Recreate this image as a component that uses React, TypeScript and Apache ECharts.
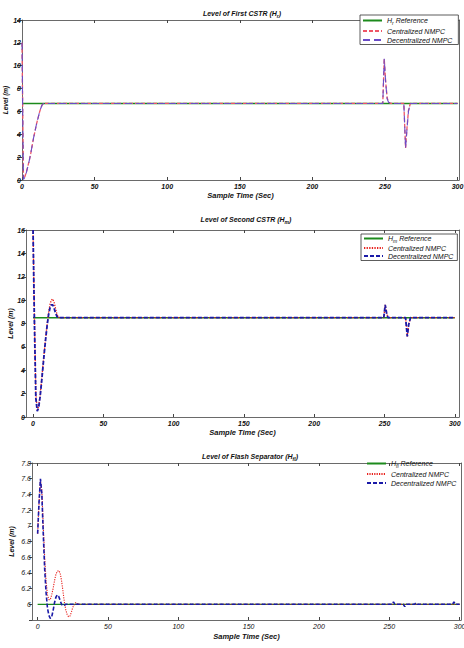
import React, { useEffect, useRef } from "react";
import * as echarts from "echarts";

// ---------- Data ----------
const xTicks = [0, 50, 100, 150, 200, 250, 300];

// Panel 1: Level of First CSTR (H_r)
const hrRef: number[][] = [[0, 6.7], [300, 6.7]];
const hrCent: number[][] = [
  [0, 12], [1, 0.1], [2, 0.3], [3, 0.7], [4, 1.2], [5, 1.7], [6, 2.3], [7, 3.0], [8, 3.7],
  [9, 4.3], [10, 4.9], [11, 5.4], [12, 5.9], [13, 6.3], [14, 6.6], [15, 6.7],
  [248.5, 6.7], [249.5, 10.6], [250.5, 8.6], [251.5, 7.2], [252.5, 6.8], [254, 6.7],
  [263, 6.7], [264.2, 2.8], [265.2, 4.6], [266.2, 6.1], [267.5, 6.7], [300, 6.7],
];
const hrDec: number[][] = [
  [0, 12], [1, 0.05], [2, 0.25], [3, 0.65], [4, 1.15], [5, 1.7], [6, 2.3], [7, 3.0], [8, 3.7],
  [9, 4.3], [10, 4.9], [11, 5.4], [12, 5.9], [13, 6.3], [14, 6.6], [15, 6.7],
  [248.5, 6.7], [249.5, 10.6], [250.5, 8.5], [251.5, 7.1], [252.5, 6.8], [254, 6.7],
  [263, 6.7], [264.2, 2.8], [265.2, 4.5], [266.2, 6.0], [267.5, 6.7], [300, 6.7],
];

// Panel 2: Level of Second CSTR (H_m)
const hmRef: number[][] = [[0, 8.5], [300, 8.5]];
const hmCent: number[][] = [
  [0, 16], [1, 8.5], [2, 2.0], [3, 0.6], [4, 0.9], [5, 1.8], [6, 3.0], [7, 4.3], [8, 5.6],
  [9, 6.8], [10, 7.9], [11, 8.9], [12, 9.6], [13, 10.0], [14, 10.1], [15, 9.8], [16, 9.3],
  [17, 8.8], [18, 8.55], [19, 8.5], [249.5, 8.5], [250.5, 9.6], [251.5, 8.9], [252.5, 8.5],
  [265, 8.5], [266.2, 6.9], [267.2, 7.9], [268.5, 8.5], [300, 8.5],
];
const hmDec: number[][] = [
  [0, 16], [1, 8.0], [2, 1.6], [3, 0.5], [4, 0.8], [5, 1.7], [6, 2.9], [7, 4.2], [8, 5.5],
  [9, 6.7], [10, 7.8], [11, 8.7], [12, 9.3], [13, 9.6], [14, 9.6], [15, 9.3], [16, 8.9],
  [17, 8.6], [18, 8.5], [249.5, 8.5], [250.5, 9.6], [251.5, 8.9], [252.5, 8.5],
  [265, 8.5], [266.2, 6.9], [267.2, 7.9], [268.5, 8.5], [300, 8.5],
];

// Panel 3: Level of Flash Separator (H_fl)
const hfRef: number[][] = [[0, 6], [300, 6]];
const hfCent: number[][] = [
  [0, 6.9], [1, 7.3], [2, 7.58], [3, 7.45], [4, 7.0], [5, 6.6], [6, 6.3], [7, 6.12], [8, 6.06],
  [9, 6.06], [10, 6.12], [11, 6.2], [12, 6.3], [13, 6.38], [14, 6.42], [15, 6.43], [16, 6.4],
  [17, 6.3], [18, 6.17], [19, 6.03], [20, 5.93], [21, 5.87], [22, 5.84], [23, 5.85], [24, 5.9],
  [25, 5.96], [26, 6.0], [27, 6.02], [28, 6.01], [30, 6.0], [300, 6.0],
];
const hfDec: number[][] = [
  [0, 6.9], [1, 7.3], [2, 7.6], [3, 7.4], [4, 6.9], [5, 6.45], [6, 6.15], [7, 5.95], [8, 5.86],
  [9, 5.82], [10, 5.84], [11, 5.92], [12, 6.02], [13, 6.09], [14, 6.12], [15, 6.1], [16, 6.05],
  [17, 6.0], [18, 5.98], [19, 5.99], [20, 6.0], [252, 6.0], [253, 6.03], [254, 6.0], [260, 6.0],
  [261, 5.97], [262, 6.0], [268, 6.0], [269, 6.02], [270, 6.0], [295, 6.0], [296, 6.03],
  [297, 6.0], [300, 6.0],
];

// ---------- Styles ----------
const FONT = "Liberation Sans, Arial, sans-serif";
const GREEN = "#1c8a1c";
const C1_CENT = "#ee5566";
const C1_DEC = "#6a4cc8";
const RED = "#e8201c";
const BLUE = "#1a1aa8";

const rich = {
  n: { fontSize: 7, fontStyle: "italic", fontFamily: FONT, color: "#111" },
  s: { fontSize: 5, fontStyle: "italic", fontFamily: FONT, color: "#111", padding: [5, 0, 0, 0] },
};

function subFmt(name: string) {
  const m = name.match(/^H_(\w+) (.*)$/);
  if (m) return `{n|H}{s|${m[1]}}{n| ${m[2]}}`;
  return `{n|${name}}`;
}

function fmtNum(v: number) {
  return String(Math.round(v * 10) / 10);
}

export default function App() {
  const ref = useRef<HTMLDivElement>(null);
  useEffect(() => {
    if (!ref.current) return;
    const chart = echarts.init(ref.current, undefined, { renderer: "svg" });

    const grids = [
      { left: 22, top: 20, width: 437, height: 160, containLabel: false, outerBoundsMode: "none" },
      { left: 26, top: 230, width: 433, height: 187, containLabel: false, outerBoundsMode: "none" },
      { left: 32, top: 463, width: 429, height: 157, containLabel: false, outerBoundsMode: "none" },
    ];
    const xRanges = [[0, 301], [-5, 303], [-4, 301]];
    const labelBold = ["bold", "bold", "normal"];

    const xAxes: any[] = [];
    const yAxes: any[] = [];
    const nameGapY = [13, 12, 17];
    const tickLen = [5, 4, 3];
    const nameSize = [6.5, 7, 7];
    xRanges.forEach((r, i) => {
      xAxes.push({
        type: "value", gridIndex: i, min: r[0], max: r[1], position: "bottom",
        name: "Sample Time (Sec)", nameLocation: "middle", nameGap: i === 2 ? 12 : 11, nameMoveOverlap: false,
        nameTextStyle: { fontSize: 7.5, fontStyle: "italic", fontWeight: "bold", fontFamily: FONT, color: "#111" },
        axisLine: { show: true, onZero: false, lineStyle: { color: "#444", width: 0.8 } },
        axisTick: { show: true, inside: true, length: 3, customValues: xTicks, lineStyle: { color: "#444" } },
        axisLabel: { customValues: xTicks, formatter: (v: number) => fmtNum(v), margin: 3, fontSize: 7, fontStyle: "italic", fontWeight: labelBold[i], fontFamily: FONT, color: "#111" },
        splitLine: { show: false },
      });
      xAxes.push({
        type: "value", gridIndex: i, min: r[0], max: r[1], position: "top",
        axisLine: { show: true, onZero: false, lineStyle: { color: "#444", width: 0.8 } },
        axisTick: { show: true, inside: true, length: 3, customValues: xTicks, lineStyle: { color: "#444" } },
        axisLabel: { show: false },
        splitLine: { show: false },
      });
    });
    const yRanges = [[0, 14, 2], [0, 16, 2], [5.8, 7.8, 0.2]];
    yRanges.forEach((r, i) => {
      yAxes.push({
        type: "value", gridIndex: i, min: r[0], max: r[1], interval: r[2], position: "left",
        name: "Level (m)", nameLocation: "middle", nameGap: nameGapY[i], nameMoveOverlap: false,
        nameTextStyle: { fontSize: nameSize[i], fontStyle: "italic", fontWeight: "bold", fontFamily: FONT, color: "#111" },
        axisLine: { show: true, onZero: false, lineStyle: { color: "#444", width: 0.8 } },
        axisTick: { show: true, inside: false, length: tickLen[i], lineStyle: { color: "#444" } },
        axisLabel: {
          margin: 1, fontSize: 7, fontStyle: "italic", fontWeight: labelBold[i], fontFamily: FONT, color: "#111",
          formatter: (v: number) => (i === 2 && v < 5.9 ? "" : fmtNum(v)),
        },
        splitLine: { show: false },
      });
      yAxes.push({
        type: "value", gridIndex: i, min: r[0], max: r[1], interval: r[2], position: "right",
        axisLine: { show: true, onZero: false, lineStyle: { color: "#444", width: 0.8 } },
        axisTick: { show: false }, axisLabel: { show: false }, splitLine: { show: false },
      });
    });

    const line = (name: string, data: number[][], g: number, color: string, type: any, width: number) => ({
      name, type: "line", xAxisIndex: g * 2, yAxisIndex: g * 2, data, showSymbol: false, symbol: "none",
      lineStyle: { color, type, width }, itemStyle: { color }, z: 2,
    });

    const series = [
      line("H_r Reference", hrRef, 0, GREEN, "solid", 1.5),
      line("Centralized NMPC", hrCent, 0, C1_CENT, [4, 2], 1.3),
      line("Decentralized NMPC", hrDec, 0, C1_DEC, [7, 4], 1.1),
      line("H_m Reference", hmRef, 1, GREEN, "solid", 1.5),
      line("Centralized NMPC ", hmCent, 1, RED, [1.3, 1.3], 1.3),
      line("Decentralized NMPC ", hmDec, 1, BLUE, [4, 2], 1.8),
      line("H_fl Reference", hfRef, 2, GREEN, "solid", 1.3),
      line("Centralized NMPC  ", hfCent, 2, RED, [1.2, 1.2], 1.1),
      line("Decentralized NMPC  ", hfDec, 2, BLUE, [4, 2], 1.6),
    ];

    const legendCommon = {
      orient: "vertical", itemWidth: 19, itemHeight: 6, selectedMode: false,
      itemStyle: { opacity: 0, borderWidth: 0 },
      textStyle: { fontSize: 7, fontStyle: "italic", fontFamily: FONT, color: "#111", rich },
      formatter: (name: string) => subFmt(name.trim()),
    };
    const legends = [
      { ...legendCommon, left: 360, top: 15, padding: [2, 6, 1, 2], itemGap: 2, backgroundColor: "#fff", borderColor: "#333", borderWidth: 0.8,
        data: ["H_r Reference", "Centralized NMPC", "Decentralized NMPC"] },
      { ...legendCommon, left: 361, top: 234, padding: [1, 4, 1, 2], itemGap: 1, backgroundColor: "#fff", borderColor: "#333", borderWidth: 0.8,
        data: ["H_m Reference", "Centralized NMPC ", "Decentralized NMPC "] },
      { ...legendCommon, left: 366, top: 460, padding: [0, 0, 0, 0], itemGap: 2,
        data: ["H_fl Reference", "Centralized NMPC  ", "Decentralized NMPC  "] },
    ];

    const titleStyle = { fontSize: 7, fontStyle: "italic", fontFamily: FONT, color: "#111", rich };
    const titles = [
      { text: "{n|Level of First CSTR (H}{s|r}{n|)}", left: 237, top: 3, textAlign: "center", textStyle: titleStyle },
      { text: "{n|Level of Second CSTR (H}{s|m}{n|)}", left: 241, top: 209, textAlign: "center", textStyle: titleStyle },
      { text: "{n|Level of Flash Separator (H}{s|fl}{n|)}", left: 245, top: 446, textAlign: "center", textStyle: titleStyle },
    ];

    chart.setOption({
      animation: false,
      backgroundColor: "#fff",
      title: titles,
      legend: legends,
      grid: grids,
      xAxis: xAxes,
      yAxis: yAxes,
      series,
    });
    return () => chart.dispose();
  }, []);
  return <div ref={ref} style={{ position: "absolute", left: 0, top: 0, width: 464, height: 648 }} />;
}
